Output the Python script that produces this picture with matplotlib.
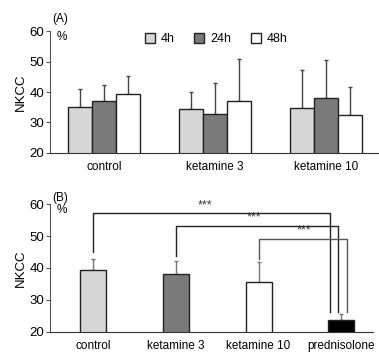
import matplotlib
matplotlib.use("Agg")
import matplotlib.pyplot as plt
import numpy as np

plt.rcParams['font.family'] = ['Liberation Sans', 'DejaVu Sans']

# Panel A data
groups_a = ["control", "ketamine 3", "ketamine 10"]
series_a = ["4h", "24h", "48h"]
mean_4h = [35.1, 34.3, 34.6]
err_4h = [5.9, 5.8, 12.6]
mean_24h = [37.0, 32.7, 38.0]
err_24h = [5.3, 10.4, 12.5]
mean_48h = [39.3, 37.0, 32.4]
err_48h = [5.9, 13.7, 9.4]

# Panel B data
groups_b = ["control", "ketamine 3", "ketamine 10", "prednisolone"]
mean_b = [39.4, 38.0, 35.7, 23.8]
err_b = [3.3, 4.2, 6.1, 1.6]
sig_labels = ["***", "***", "***"]

yticks = [20, 30, 40, 50, 60]

fig = plt.figure(figsize=(3.79, 3.54), dpi=100)
ax1 = fig.add_axes([0.132, 0.568, 0.868, 0.344])
ax2 = fig.add_axes([0.132, 0.063, 0.853, 0.36])

cols_a = ["#d6d6d6", "#7a7a7a", "#ffffff"]
edge = "#222222"

def style(ax):
    for s in ["top", "right"]:
        ax.spines[s].set_visible(False)
    ax.spines["left"].set_color("#555555")
    ax.spines["bottom"].set_color("#333333")
    ax.set_ylim(20, 60)
    ax.set_yticks(yticks)
    ax.tick_params(axis="y", labelsize=9.5, length=3, color="#555555", pad=1)
    ax.tick_params(axis="x", length=0, labelsize=8.5, pad=6)
    ax.set_ylabel("NKCC", fontsize=9.5, labelpad=2)
    ax.text(0.02, 1.0, "%", transform=ax.transAxes, fontsize=8.5, va="top", ha="left")

# Panel A
x = np.arange(len(groups_a))
w = 0.216
means = [mean_4h, mean_24h, mean_48h]
errs = [err_4h, err_24h, err_48h]
for i in range(3):
    ax1.bar(x + (i - 1) * w, means[i], w, bottom=0, color=cols_a[i], edgecolor=edge,
            linewidth=1.0, label=series_a[i], zorder=2)
    ax1.errorbar(x + (i - 1) * w, means[i], yerr=[np.zeros(3), errs[i]], fmt="none",
                 ecolor="#444444", elinewidth=1.0, capsize=1.2, zorder=1)
ax1.set_xlim(-0.486, 2.477)
ax1.set_xticks(x)
ax1.set_xticklabels(groups_a)
style(ax1)
ax1.legend(loc="upper center", bbox_to_anchor=(0.505, 1.075), ncol=3, frameon=False,
           fontsize=9, handlelength=0.8, handleheight=0.8, columnspacing=1.6, handletextpad=0.45)
fig.text(0.137, 0.945, "(A)", fontsize=8.5, ha="left", va="center")

# Panel B
xb = np.arange(len(groups_b))
wb = 0.314
cols_b = ["#d6d6d6", "#7a7a7a", "#ffffff", "#000000"]
ax2.bar(xb, mean_b, wb, color=cols_b, edgecolor=edge, linewidth=1.0, zorder=2)
ax2.errorbar(xb, mean_b, yerr=[np.zeros(4), err_b], fmt="none", ecolor="#777777",
             elinewidth=1.0, capsize=1.2, zorder=1)
ax2.set_xlim(-0.52, 3.387)
ax2.set_xticks(xb)
ax2.set_xticklabels(groups_b)
style(ax2)
fig.text(0.137, 0.44, "(B)", fontsize=8.5, ha="left", va="center")

# brackets
levels = [57.1, 53.3, 49.0]
left_bottom = [45.1, 43.8, 42.8]
right_off = [-0.133, -0.036, 0.073]
star_x = [1.35, 1.95, 2.55]
bcol = ["#222222", "#222222", "#555555"]
for i in range(3):
    xl = xb[i]
    xr = xb[3] + right_off[i]
    ax2.plot([xl, xl, xr, xr], [left_bottom[i], levels[i], levels[i], 26.3],
             color=bcol[i], lw=1.0, zorder=3)
    ax2.text(star_x[i], levels[i] + 0.8, sig_labels[i], ha="center", va="bottom",
             fontsize=9, color="#333355")

fig.savefig("out.png", dpi=100)
